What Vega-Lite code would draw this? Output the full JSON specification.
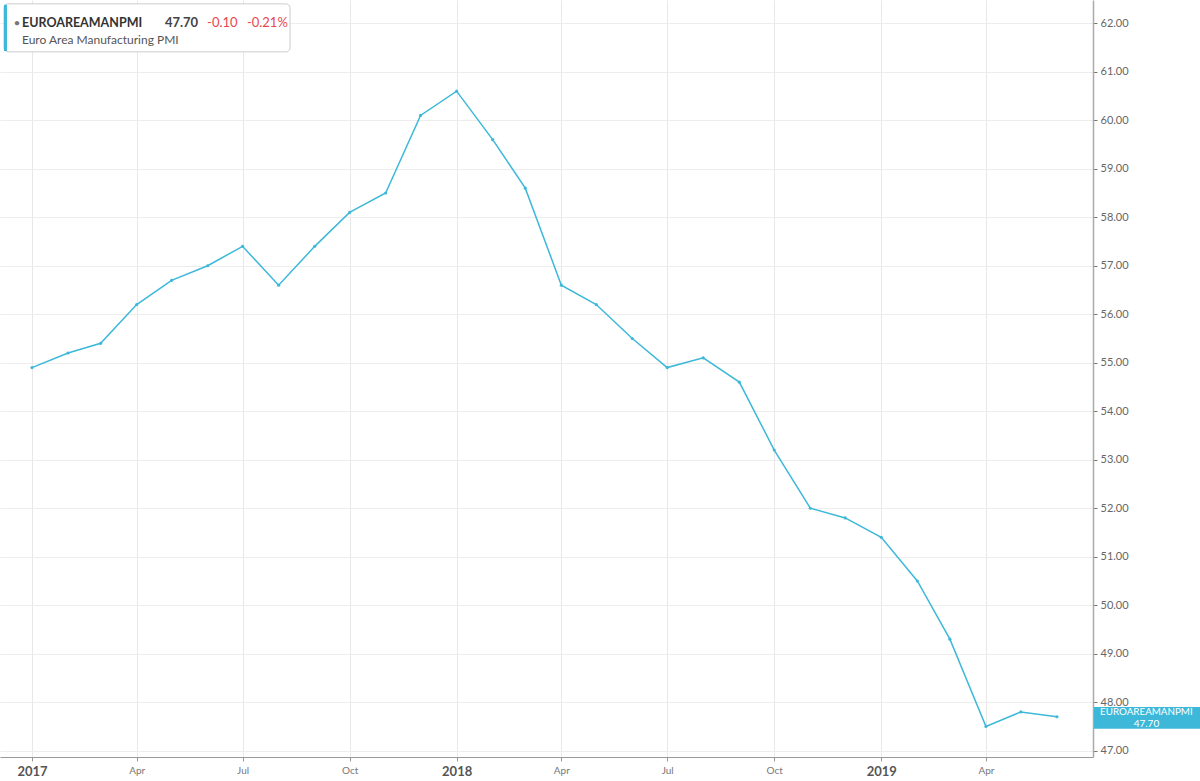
{
  "$schema": "https://vega.github.io/schema/vega-lite/v6.json",
  "width": 1093,
  "height": 757,
  "autosize": {"type": "none"},
  "padding": {"left": 0, "top": 0, "right": 107, "bottom": 24},
  "background": "white",
  "config": {"view": {"stroke": null}, "font": "Lato"},
  "data": {"values": [
    {"date": "2017/01/01", "value": 54.9},
    {"date": "2017/02/01", "value": 55.2},
    {"date": "2017/03/01", "value": 55.4},
    {"date": "2017/04/01", "value": 56.2},
    {"date": "2017/05/01", "value": 56.7},
    {"date": "2017/06/01", "value": 57.0},
    {"date": "2017/07/01", "value": 57.4},
    {"date": "2017/08/01", "value": 56.6},
    {"date": "2017/09/01", "value": 57.4},
    {"date": "2017/10/01", "value": 58.1},
    {"date": "2017/11/01", "value": 58.5},
    {"date": "2017/12/01", "value": 60.1},
    {"date": "2018/01/01", "value": 60.6},
    {"date": "2018/02/01", "value": 59.6},
    {"date": "2018/03/01", "value": 58.6},
    {"date": "2018/04/01", "value": 56.6},
    {"date": "2018/05/01", "value": 56.2},
    {"date": "2018/06/01", "value": 55.5},
    {"date": "2018/07/01", "value": 54.9},
    {"date": "2018/08/01", "value": 55.1},
    {"date": "2018/09/01", "value": 54.6},
    {"date": "2018/10/01", "value": 53.2},
    {"date": "2018/11/01", "value": 52.0},
    {"date": "2018/12/01", "value": 51.8},
    {"date": "2019/01/01", "value": 51.4},
    {"date": "2019/02/01", "value": 50.5},
    {"date": "2019/03/01", "value": 49.3},
    {"date": "2019/04/01", "value": 47.5},
    {"date": "2019/05/01", "value": 47.8},
    {"date": "2019/06/01", "value": 47.7}
  ]},
  "layer": [
    {
      "mark": {"type": "line", "color": "#3db8d9", "strokeWidth": 1.5, "point": {"filled": true, "size": 10, "color": "#3db8d9"}},
      "encoding": {
        "x": {
          "field": "date", "type": "temporal",
          "scale": {"domain": [{"year": 2016, "month": 12, "date": 4, "hours": 12}, {"year": 2019, "month": 7, "date": 2}]},
          "axis": {
            "title": null,
            "values": [
              {"year": 2017, "month": 1, "date": 1}, {"year": 2017, "month": 4, "date": 1}, {"year": 2017, "month": 7, "date": 1}, {"year": 2017, "month": 10, "date": 1},
              {"year": 2018, "month": 1, "date": 1}, {"year": 2018, "month": 4, "date": 1}, {"year": 2018, "month": 7, "date": 1}, {"year": 2018, "month": 10, "date": 1},
              {"year": 2019, "month": 1, "date": 1}, {"year": 2019, "month": 4, "date": 1}
            ],
            "grid": true, "gridColor": "#e8e8e8",
            "domainColor": "#999", "tickColor": "#999", "tickSize": 4,
            "labelExpr": "month(datum.value) == 0 ? timeFormat(datum.value, '%Y') : timeFormat(datum.value, '%b')",
            "labelFontWeight": {"condition": {"test": "month(datum.value) == 0", "value": "bold"}, "value": "normal"},
            "labelFontSize": {"condition": {"test": "month(datum.value) == 0", "value": 13}, "value": 10},
            "labelColor": {"condition": {"test": "month(datum.value) == 0", "value": "#555555"}, "value": "#777777"},
            "labelPadding": 4, "labelFlush": false, "labelOverlap": false, "labelBound": false
          }
        },
        "y": {
          "field": "value", "type": "quantitative",
          "scale": {"domain": [46.87, 62.48], "nice": false, "zero": false},
          "axis": {
            "title": null, "orient": "right",
            "values": [47, 48, 49, 50, 51, 52, 53, 54, 55, 56, 57, 58, 59, 60, 61, 62],
            "format": ".2f", "grid": true, "gridColor": "#ededed",
            "domainColor": "#aaaaaa", "domainWidth": 1.5,
            "tickColor": "#777777", "tickSize": 4,
            "labelColor": "#666666", "labelFontSize": 11, "labelPadding": 3
          }
        }
      }
    },
    {
      "data": {"values": [{}]},
      "mark": {"type": "rect", "fill": "white", "stroke": "#cccccc", "strokeWidth": 1, "cornerRadius": 4},
      "encoding": {
        "x": {"datum": {"year": 2016, "month": 12, "date": 7, "hours": 22}, "type": "temporal"},
        "x2": {"datum": {"year": 2017, "month": 8, "date": 10, "hours": 19}},
        "y": {"datum": 62.40, "type": "quantitative"},
        "y2": {"datum": 61.41}
      }
    },
    {
      "data": {"values": [{}]},
      "mark": {"type": "rect", "fill": "#3db8d9"},
      "encoding": {
        "x": {"datum": {"year": 2016, "month": 12, "date": 7, "hours": 22}, "type": "temporal"},
        "x2": {"datum": {"year": 2016, "month": 12, "date": 10, "hours": 12}},
        "y": {"datum": 62.38, "type": "quantitative"},
        "y2": {"datum": 61.43}
      }
    },
    {
      "data": {"values": [{}]},
      "mark": {"type": "text", "text": "•", "color": "#777777", "fontSize": 12, "align": "center", "baseline": "middle"},
      "encoding": {
        "x": {"datum": {"year": 2016, "month": 12, "date": 19, "hours": 2}, "type": "temporal"},
        "y": {"datum": 62.0, "type": "quantitative"}
      }
    },
    {
      "data": {"values": [{}]},
      "mark": {"type": "text", "text": "EUROAREAMANPMI", "color": "#333333", "fontSize": 12.5, "fontWeight": "bold", "align": "left", "baseline": "middle"},
      "encoding": {
        "x": {"datum": {"year": 2016, "month": 12, "date": 23, "hours": 10}, "type": "temporal"},
        "y": {"datum": 62.0, "type": "quantitative"}
      }
    },
    {
      "data": {"values": [{}]},
      "mark": {"type": "text", "text": "47.70", "color": "#444444", "fontSize": 13, "fontWeight": "bold", "align": "left", "baseline": "middle"},
      "encoding": {
        "x": {"datum": {"year": 2017, "month": 4, "date": 25, "hours": 6}, "type": "temporal"},
        "y": {"datum": 62.0, "type": "quantitative"}
      }
    },
    {
      "data": {"values": [{}]},
      "mark": {"type": "text", "text": "-0.10", "color": "#e8474c", "fontSize": 13, "align": "left", "baseline": "middle"},
      "encoding": {
        "x": {"datum": {"year": 2017, "month": 5, "date": 31, "hours": 12}, "type": "temporal"},
        "y": {"datum": 62.0, "type": "quantitative"}
      }
    },
    {
      "data": {"values": [{}]},
      "mark": {"type": "text", "text": "-0.21%", "color": "#e8474c", "fontSize": 13, "align": "left", "baseline": "middle"},
      "encoding": {
        "x": {"datum": {"year": 2017, "month": 7, "date": 4, "hours": 17}, "type": "temporal"},
        "y": {"datum": 62.0, "type": "quantitative"}
      }
    },
    {
      "data": {"values": [{}]},
      "mark": {"type": "text", "text": "Euro Area Manufacturing PMI", "color": "#555555", "fontSize": 12, "align": "left", "baseline": "middle"},
      "encoding": {
        "x": {"datum": {"year": 2016, "month": 12, "date": 23, "hours": 10}, "type": "temporal"},
        "y": {"datum": 61.645, "type": "quantitative"}
      }
    },
    {
      "data": {"values": [{}]},
      "mark": {"type": "rect", "fill": "#3db8d9"},
      "encoding": {
        "x": {"datum": {"year": 2019, "month": 7, "date": 2, "hours": 20}, "type": "temporal"},
        "x2": {"datum": {"year": 2019, "month": 10, "date": 8}},
        "y": {"datum": 47.90, "type": "quantitative"},
        "y2": {"datum": 47.45}
      }
    },
    {
      "data": {"values": [{}]},
      "mark": {"type": "text", "text": "EUROAREAMANPMI", "color": "white", "fontSize": 9.8, "align": "center", "baseline": "middle"},
      "encoding": {
        "x": {"datum": {"year": 2019, "month": 8, "date": 16, "hours": 22}, "type": "temporal"},
        "y": {"datum": 47.79, "type": "quantitative"}
      }
    },
    {
      "data": {"values": [{}]},
      "mark": {"type": "text", "text": "47.70", "color": "white", "fontSize": 10, "align": "center", "baseline": "middle"},
      "encoding": {
        "x": {"datum": {"year": 2019, "month": 8, "date": 16, "hours": 22}, "type": "temporal"},
        "y": {"datum": 47.56, "type": "quantitative"}
      }
    }
  ]
}
